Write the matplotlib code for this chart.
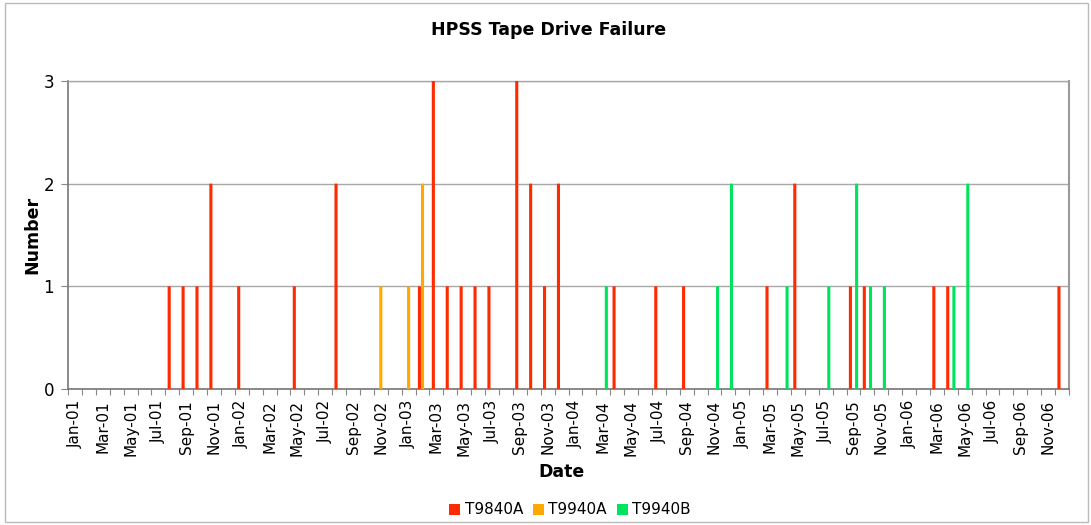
import matplotlib
matplotlib.use("Agg")
import matplotlib.pyplot as plt
from matplotlib.patches import Rectangle
import numpy as np

month_names = ["Jan", "Feb", "Mar", "Apr", "May", "Jun",
               "Jul", "Aug", "Sep", "Oct", "Nov", "Dec"]
years = ["01", "02", "03", "04", "05", "06"]
months = [f"{m}-{y}" for y in years for m in month_names]

series_names = ["T9840A", "T9940A", "T9940B"]
colors = ["#ff2a00", "#ffa800", "#00e35c"]

t9840a = {"Aug-01": 1, "Sep-01": 1, "Oct-01": 1, "Nov-01": 2, "Jan-02": 1,
          "May-02": 1, "Aug-02": 2, "Feb-03": 1, "Mar-03": 3, "Apr-03": 1,
          "May-03": 1, "Jun-03": 1, "Jul-03": 1, "Sep-03": 3, "Oct-03": 2,
          "Nov-03": 1, "Dec-03": 2, "Apr-04": 1, "Jul-04": 1, "Sep-04": 1,
          "Mar-05": 1, "May-05": 2, "Sep-05": 1, "Oct-05": 1, "Mar-06": 1,
          "Apr-06": 1, "Dec-06": 1}
t9940a = {"Nov-02": 1, "Jan-03": 1, "Feb-03": 2}
t9940b = {"Mar-04": 1, "Nov-04": 1, "Dec-04": 2, "Apr-05": 1, "Jul-05": 1,
          "Sep-05": 2, "Oct-05": 1, "Nov-05": 1, "Apr-06": 1, "May-06": 2}

series = [t9840a, t9940a, t9940b]

fig = plt.figure(figsize=(10.91, 5.25), dpi=100)
ax = fig.add_axes([68 / 1091, 1 - 389 / 525, (1069 - 68) / 1091, (389 - 81) / 525])

n = len(months)
idx = np.arange(n)
slot = 1 / 4.5
offsets = [0.75 * slot + slot * (k + 0.5) for k in range(3)]
for k, (s, c, name) in enumerate(zip(series, colors, series_names)):
    vals = [s.get(m, 0) for m in months]
    bars = ax.bar(idx + offsets[k], vals, width=slot, color=c, label=name,
                  linewidth=0, zorder=3)
    for b in bars:
        b.set_snap(False)

ax.set_xlim(0, n)
ax.set_ylim(0, 3)
ax.set_yticks([0, 1, 2, 3])
ax.set_yticklabels(["0", "1", "2", "3"], fontsize=12)
ax.yaxis.grid(True, color="#a8a8a8", linewidth=1.0, zorder=0)
ax.set_axisbelow(True)

ax.set_xticks(np.arange(n + 1))
ax.set_xticklabels([])
ax.set_xticks(idx[::2] + 0.5, minor=True)
ax.set_xticklabels(months[::2], minor=True, rotation=90, fontsize=11)
ax.tick_params(axis="x", which="major", length=4, color="#888888", direction="out")
ax.tick_params(axis="x", which="minor", length=0, pad=8)
ax.tick_params(axis="y", length=5, color="#888888", pad=5)

for side in ["left", "bottom"]:
    ax.spines[side].set_color("#777777")
    ax.spines[side].set_linewidth(1.2)
ax.spines["right"].set_color("#999999")
ax.spines["right"].set_linewidth(1.5)
ax.spines["top"].set_color("#a8a8a8")
ax.spines["top"].set_linewidth(1.0)

fig.text(549 / 1091, 1 - 30 / 525, "HPSS Tape Drive Failure", ha="center",
         va="center", fontsize=12.5, fontweight="bold")
fig.text(32 / 1091, 1 - 235 / 525, "Number", rotation=90, ha="center",
         va="center", fontsize=12.5, fontweight="bold")
fig.text(561 / 1091, 1 - 472 / 525, "Date", ha="center", va="center",
         fontsize=12.5, fontweight="bold")

handles, labels = ax.get_legend_handles_labels()
leg = fig.legend(handles, labels, loc="center", bbox_to_anchor=(570 / 1091, 1 - 510 / 525),
                 ncol=3, frameon=False, fontsize=11, handlelength=0.72,
                 handleheight=0.72, handletextpad=0.3, columnspacing=0.65)

fig.patches.append(Rectangle((5 / 1091, 3 / 525), 1083 / 1091, 519 / 525,
                             transform=fig.transFigure, fill=False,
                             edgecolor="#bbbbbb", linewidth=1.0))

fig.savefig("out.png", dpi=100)
